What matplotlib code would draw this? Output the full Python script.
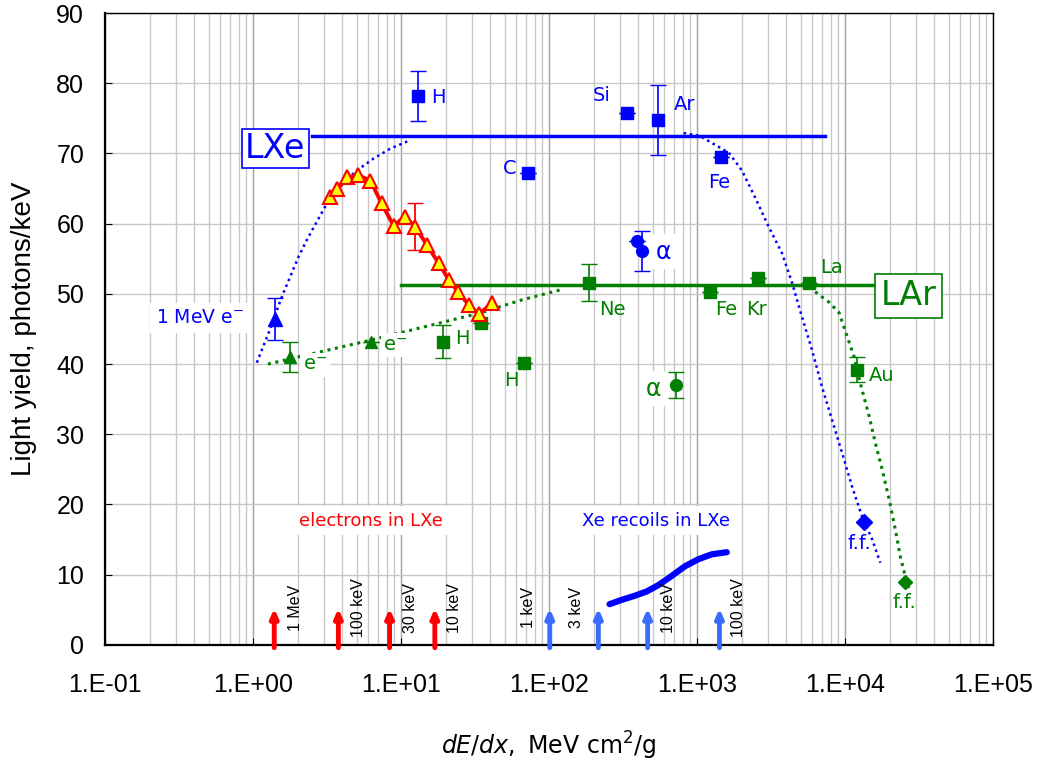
import numpy as np
import matplotlib.pyplot as plt
from matplotlib.ticker import FixedLocator, LogLocator, NullFormatter

plt.rcParams['font.family'] = ['DejaVu Sans']

BLUE = '#0000ff'
GREEN = '#007f00'
RED = '#ff0000'
ARROW_BLUE = '#3a6cff'
ARIAL = 'Liberation Sans'

# --- LXe data (blue) ---
lxe_e_x, lxe_e_y, lxe_e_err = [1.41], [46.4], [3.0]
lxe_sq_x = [13.1, 72, 338, 540, 1443]          # H, C, Si, Ar, Fe
lxe_sq_y = [78.2, 67.2, 75.8, 74.8, 69.5]
lxe_sq_err = [3.6, 0, 0, 5.0, 0]
lxe_alpha_x = [395, 427]
lxe_alpha_y = [57.5, 56.1]
lxe_alpha_err = [0, 2.9]
lxe_ff_x, lxe_ff_y = [13460], [17.5]
lxe_level = 72.5
lxe_level_x = [2.5, 7300]
lxe_curve_lo_x = [1.06, 1.17, 1.30, 1.45, 1.60, 1.78, 2.03, 2.31, 2.70, 3.16, 3.89, 5.05, 6.54, 8.49, 11.0]
lxe_curve_lo_y = [40.2, 42.5, 44.9, 47.7, 50.1, 52.4, 55.3, 57.7, 60.3, 62.9, 65.5, 67.6, 69.3, 70.7, 71.7]
lxe_curve_hi_x = [810, 1040, 1636, 2004, 2455, 3053, 3741, 4373, 5110, 5972, 6982, 8166,
                  9546, 11150, 13040, 15240, 17260]
lxe_curve_hi_y = [72.9, 72.5, 70.1, 67.6, 63.8, 59.5, 55.8, 51.6, 46.7, 42.0, 36.7, 32.0,
                  27.3, 22.5, 18.2, 15.0, 11.7]

# electrons in LXe (red triangles)
el_x = [3.33, 3.71, 4.34, 5.15, 6.21, 7.38, 8.90, 10.6, 12.5, 14.9, 17.9, 21.0, 24.2, 28.7, 33.5, 41.1]
el_y = [63.8, 64.9, 66.6, 66.9, 66.1, 62.9, 59.7, 61.0, 59.5, 57.0, 54.4, 52.0, 50.3, 48.4, 47.1, 48.7]
el_err_x, el_err_y, el_err = [12.5], [59.6], [3.3]

# --- LAr data (green) ---
lar_e_x = [1.78, 6.22]
lar_e_y = [41.0, 43.2]
lar_e_err = [2.1, 0]
lar_sq_x = [19.1, 34.6, 67.8, 187, 1216, 2572, 5700, 12060]   # H, -, H, Ne, Fe, Kr, La, Au
lar_sq_y = [43.2, 45.9, 40.2, 51.6, 50.3, 52.3, 51.6, 39.2]
lar_sq_err = [2.4, 0, 0, 2.6, 0, 0, 0, 1.8]
lar_alpha_x, lar_alpha_y, lar_alpha_err = [715], [37.0], [1.8]
lar_ff_x, lar_ff_y = [25530], [9.0]
lar_level = 51.3
lar_level_x = [10, 26000]
lar_curve_lo_x = [1.26, 6.22, 34.6, 64.5, 126]
lar_curve_lo_y = [40.0, 43.4, 47.3, 49.1, 50.7]
lar_curve_hi_x = [6266, 7792, 9106, 10320, 11510, 12640, 14550, 15970, 17820, 19870,
                  21840, 23620, 25530, 27160]
lar_curve_hi_y = [50.3, 48.8, 47.3, 43.9, 41.0, 37.3, 32.5, 28.8, 24.9, 20.6,
                  16.4, 12.5, 9.7, 7.8]

# Xe recoils in LXe curve
rec_x = [256, 308, 379, 455, 546, 671, 827, 1019, 1254, 1585]
rec_y = [5.8, 6.4, 7.0, 7.6, 8.5, 9.8, 11.2, 12.2, 12.9, 13.2]

# energy arrows
el_arrow_x = [1.39, 3.77, 8.36, 16.9]
el_arrow_lab = ['1 MeV', '100 keV', '30 keV', '10 keV']
el_lab_x = [1.93, 5.15, 11.6, 23.0]
rec_arrow_x = [101, 215, 463, 1415]
rec_arrow_lab = ['1 keV', '3 keV', '10 keV', '100 keV']
rec_lab_x = [72, 152, 640, 1900]

fig = plt.figure(figsize=(10.4, 7.65), dpi=100)
ax = fig.add_axes([0.101, 0.157, 0.854, 0.826])
ax.set_xscale('log')
ax.set_xlim(0.1, 1e5)
ax.set_ylim(0, 90)

# grid
ax.xaxis.set_major_locator(FixedLocator([1e-1, 1e0, 1e1, 1e2, 1e3, 1e4, 1e5]))
ax.xaxis.set_minor_locator(LogLocator(base=10, subs=np.arange(2, 10), numticks=20))
ax.xaxis.set_minor_formatter(NullFormatter())
ax.yaxis.set_major_locator(FixedLocator(np.arange(0, 91, 10)))
ax.grid(True, which='major', axis='x', color='#a0a0a0', lw=1.0)
ax.grid(True, which='minor', axis='x', color='#c8c8c8', lw=1.0)
ax.grid(True, which='major', axis='y', color='#c8c8c8', lw=1.0)
ax.set_axisbelow(True)
ax.xaxis.set_major_formatter(plt.FuncFormatter(lambda v, p: '1.E%+03d' % int(round(np.log10(v)))))
ax.tick_params(axis='both', which='major', direction='in', length=5, labelsize=18)
ax.tick_params(axis='x', which='major', pad=20)
ax.tick_params(axis='y', which='major', pad=15)
ax.tick_params(axis='x', which='minor', length=0)
for lab in ax.get_xticklabels() + ax.get_yticklabels():
    lab.set_fontfamily(ARIAL)
for s in ax.spines.values():
    s.set_linewidth(1.0)
ax.spines['left'].set_linewidth(1.6)
ax.spines['bottom'].set_linewidth(1.6)

dots = (0, (1, 1.5))

# LXe
ax.plot(lxe_level_x, [lxe_level] * 2, color=BLUE, lw=2.5, zorder=3)
ax.plot(lxe_curve_lo_x, lxe_curve_lo_y, color=BLUE, lw=1.8, ls=dots, zorder=3)
ax.plot(lxe_curve_hi_x, lxe_curve_hi_y, color=BLUE, lw=1.8, ls=dots, zorder=3)
ax.errorbar(lxe_e_x, lxe_e_y, yerr=lxe_e_err, fmt='^', color=BLUE, ms=10, capsize=6, elinewidth=1.2, zorder=5)
ax.errorbar(lxe_sq_x, lxe_sq_y, yerr=lxe_sq_err, fmt='s', color=BLUE, ms=8.5, capsize=6, elinewidth=1.2, zorder=5)
ax.errorbar(lxe_alpha_x, lxe_alpha_y, yerr=lxe_alpha_err, fmt='o', color=BLUE, ms=8.5, capsize=6, elinewidth=1.2, zorder=5)
ax.plot(lxe_ff_x, lxe_ff_y, 'D', color=BLUE, ms=8, zorder=5)

# LAr
ax.plot(lar_level_x, [lar_level] * 2, color=GREEN, lw=2.5, zorder=3)
ax.plot(lar_curve_lo_x, lar_curve_lo_y, color=GREEN, lw=2.2, ls=dots, zorder=3)
ax.plot(lar_curve_hi_x, lar_curve_hi_y, color=GREEN, lw=2.2, ls=dots, zorder=3)
ax.errorbar(lar_e_x, lar_e_y, yerr=lar_e_err, fmt='^', color=GREEN, ms=9, capsize=6, elinewidth=1.2, zorder=5)
ax.errorbar(lar_sq_x, lar_sq_y, yerr=lar_sq_err, fmt='s', color=GREEN, ms=8.5, capsize=6, elinewidth=1.2, zorder=5)
ax.errorbar(lar_alpha_x, lar_alpha_y, yerr=lar_alpha_err, fmt='o', color=GREEN, ms=8.5, capsize=6, elinewidth=1.2, zorder=5)
ax.plot(lar_ff_x, lar_ff_y, 'D', color=GREEN, ms=7, zorder=5)

# electrons in LXe
ax.errorbar(el_err_x, el_err_y, yerr=el_err, fmt='none', ecolor=RED, capsize=6, elinewidth=1.3, zorder=5)
ax.plot(el_x, el_y, '-^', color=RED, lw=2.8, ms=9.5, mfc='#ffff00', mec=RED, mew=1.5, zorder=6)

# recoil curve
ax.plot(rec_x, rec_y, color=BLUE, lw=4.5, solid_capstyle='round', solid_joinstyle='round', zorder=4)

# arrows
for x in el_arrow_x:
    ax.annotate('', xy=(x, 5.6), xytext=(x, -0.8), annotation_clip=False,
                arrowprops=dict(arrowstyle='-|>,head_width=0.22,head_length=0.5', color=RED, lw=3.5))
for x in rec_arrow_x:
    ax.annotate('', xy=(x, 5.6), xytext=(x, -0.8), annotation_clip=False,
                arrowprops=dict(arrowstyle='-|>,head_width=0.22,head_length=0.5', color=ARROW_BLUE, lw=3.5))
for x, t in zip(el_lab_x + rec_lab_x, el_arrow_lab + rec_arrow_lab):
    ax.text(x, 5.3, t, rotation=90, ha='center', va='center', fontsize=11.5, family=ARIAL,
            color='black', zorder=6)

white = dict(facecolor='white', edgecolor='none', pad=4)
ax.text(6.22, 17.7, 'electrons in LXe', color=RED, fontsize=13, ha='center', va='center', bbox=white, zorder=6)
ax.text(524, 17.7, 'Xe recoils in LXe', color=BLUE, fontsize=13, ha='center', va='center', bbox=white, zorder=6)

# boxes
ax.text(1.41, 70.7, 'LXe', color=BLUE, fontsize=24, ha='center', va='center', zorder=7,
        bbox=dict(facecolor='white', edgecolor=BLUE, lw=1.2, pad=2.5))
ax.text(26730, 49.7, 'LAr', color=GREEN, fontsize=24, ha='center', va='center', zorder=7,
        bbox=dict(facecolor='white', edgecolor=GREEN, lw=1.2, pad=4))

# point labels
fs = 14
ax.text(0.437, 46.6, '1 MeV e$^{-}$', color=BLUE, fontsize=13.5, ha='center', va='center', bbox=white, zorder=6)
ax.text(2.63, 39.9, 'e$^{-}$', color=GREEN, fontsize=fs, ha='center', va='center',
        bbox=dict(facecolor='white', edgecolor='none', pad=2), zorder=6)
ax.text(9.18, 42.7, 'e$^{-}$', color=GREEN, fontsize=fs, ha='center', va='center',
        bbox=dict(facecolor='white', edgecolor='none', pad=2), zorder=6)
labels_blue = [('H', 17.9, 78.0), ('C', 54.4, 67.9), ('Si', 225, 78.3), ('Ar', 823, 76.9),
               ('Fe', 1400, 65.8), ('f.f.', 12440, 14.4)]
for t, x, y in labels_blue:
    ax.text(x, y, t, color=BLUE, fontsize=fs, ha='center', va='center', zorder=6)
ax.text(590, 56.0, '\u03b1', color=BLUE, fontsize=17, ha='center', va='center', bbox=white, zorder=6)
labels_green = [('H', 26.0, 43.7), ('H', 55.4, 37.7), ('Ne', 267, 47.7), ('Fe', 1560, 47.8),
                ('Kr', 2520, 47.8), ('La', 8100, 53.7), ('Au', 17600, 38.3), ('f.f.', 25200, 6.0)]
for t, x, y in labels_green:
    ax.text(x, y, t, color=GREEN, fontsize=fs, ha='center', va='center', zorder=6)
ax.text(508, 36.5, '\u03b1', color=GREEN, fontsize=17, ha='center', va='center', bbox=white, zorder=6)

ax.set_ylabel('Light yield, photons/keV', fontsize=20, family=ARIAL, labelpad=14)
ax.set_xlabel('$\\it{dE/dx,}$ MeV cm$^{2}$/g', fontsize=17, labelpad=24)

fig.savefig('out.png', dpi=100)
